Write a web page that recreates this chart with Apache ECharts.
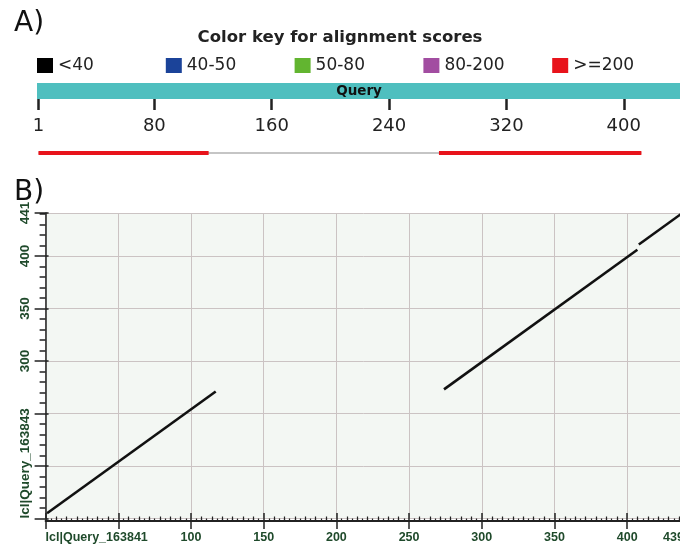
<!DOCTYPE html>
<html>
<head>
<meta charset="utf-8">
<script src="https://cdn.jsdelivr.net/npm/echarts@6/dist/echarts.min.js"></script>
<style>
html,body{margin:0;padding:0;background:#fff;}
#chart{width:680px;height:544px;}
</style>
</head>
<body>
<div id="chart"></div>
<script>
// ---------- data ----------
const queryLength = 439;
const queryTicks = [1, 80, 160, 240, 320, 400];
const queryLabel = 'Query';
const scoreKeys = ['<40', '40-50', '50-80', '80-200', '>=200'];
const scoreColors = ['#000000', '#1b4399', '#62b530', '#a24da1', '#e8131b'];
const hspQueryRanges = [[1, 117], [274, 412]];   // red (>=200) hits on the query
const hitSpan = [1, 412];                          // thin connector line
const dotXName = 'lcl|Query_163841';
const dotYName = 'lcl|Query_163843';
const dotSegments = [
  [[1, 155], [117, 271]],
  [[274, 273], [407, 406]],
  [[408, 411], [438, 441]]
];
const dotXRange = [0, 439];
const dotYRange = [150, 441];
const dotXLabels = [100, 150, 200, 250, 300, 350, 400, 439];
const dotYLabels = [300, 350, 400, 441];

// ---------- styles ----------
const green = '#1f4a2b';
const axisDark = '#222';
const gridCol = '#cbc3c3';

const chart = echarts.init(document.getElementById('chart'), null, {renderer: 'canvas'});

const legends = scoreKeys.map((k, i) => ({
  data: [k],
  left: 37 + i * 128.8,
  top: 57,
  padding: 0,
  icon: 'rect',
  itemWidth: 16,
  itemHeight: 15,
  selectedMode: false,
  itemStyle: {opacity: 1},
  textStyle: {fontFamily: 'DejaVu Sans', fontSize: 17, color: '#222', padding: [0, 0, 0, 0]}
}));

const legendSeries = scoreKeys.map((k, i) => ({
  type: 'scatter', name: k, data: [], xAxisIndex: 1, yAxisIndex: 1,
  itemStyle: {color: scoreColors[i], opacity: 1}
}));

const hitSeries = hspQueryRanges.map(r => ({
  type: 'line', xAxisIndex: 1, yAxisIndex: 1, symbol: 'none', silent: true,
  data: [[r[0], 'hits'], [r[1], 'hits']],
  lineStyle: {color: scoreColors[4], width: 4, cap: 'butt'}, z: 3
}));

const dotSeries = dotSegments.map(s => ({
  type: 'line', xAxisIndex: 2, yAxisIndex: 2, symbol: 'none', silent: true,
  data: s, lineStyle: {color: '#111', width: 2.6}, z: 5
}));

const xLab = v => v === dotXRange[0] ? dotXName : (dotXLabels.indexOf(v) >= 0 ? String(v) : '');
const yLab = v => v === dotYRange[0] ? dotYName : (dotYLabels.indexOf(v) >= 0 ? String(v) : '');

const option = {
  animation: false,
  backgroundColor: '#ffffff',
  title: [
    {text: 'A)', left: 14, top: 10, padding: 0,
     textStyle: {fontFamily: 'DejaVu Sans', fontSize: 28, fontWeight: 'normal', color: '#111'}},
    {text: 'Color key for alignment scores', left: 'center', top: 29, padding: 0,
     textStyle: {fontFamily: 'DejaVu Sans', fontSize: 16.5, fontWeight: 'bold', color: '#222'}},
    {text: 'B)', left: 14, top: 179, padding: 0,
     textStyle: {fontFamily: 'DejaVu Sans', fontSize: 28, fontWeight: 'normal', color: '#111'}}
  ],
  legend: legends,
  grid: [
    {left: 37, right: -1, top: 83, height: 16, outerBoundsMode: 'none'},
    {left: 37, right: -1, top: 145, height: 16, outerBoundsMode: 'none'},
    {left: 45.6, right: -3.9, top: 213, bottom: 25.5, outerBoundsMode: 'none',
     show: true, backgroundColor: '#f3f7f3', borderWidth: 0}
  ],
  xAxis: [
    {type: 'value', gridIndex: 0, min: 0, max: queryLength,
     axisLine: {show: false}, splitLine: {show: false},
     axisTick: {show: true, customValues: queryTicks, length: 11, lineStyle: {color: axisDark, width: 2.5}},
     axisLabel: {show: true, customValues: queryTicks, margin: 18, fontFamily: 'DejaVu Sans', fontSize: 18, color: '#222'}},
    {type: 'value', gridIndex: 1, min: 0, max: queryLength, show: false},
    {type: 'value', gridIndex: 2, min: dotXRange[0], max: dotXRange[1], interval: 50, position: 'bottom', offset: 2.5,
     axisLine: {show: true, lineStyle: {color: axisDark, width: 2}},
     axisTick: {show: true, inside: true, length: 8, lineStyle: {color: axisDark, width: 1.5}},
     minorTick: {show: true, splitNumber: 14, length: 2.5, lineStyle: {color: axisDark, width: 1.2}},
     splitLine: {show: true, lineStyle: {color: gridCol, width: 1}},
     axisLabel: {show: true, showMinLabel: true, showMaxLabel: true, alignMinLabel: 'left', alignMaxLabel: 'right',
       margin: 10, formatter: xLab, fontFamily: 'Liberation Sans', fontWeight: 'bold', fontSize: 12.5, color: green}},
    {type: 'value', gridIndex: 2, min: dotXRange[0], max: dotXRange[1], interval: 50, position: 'bottom', offset: 2.5,
     axisLine: {show: false}, axisLabel: {show: false}, splitLine: {show: false},
     axisTick: {show: false, inside: true},
     minorTick: {show: true, splitNumber: 7, length: 4.5, lineStyle: {color: axisDark, width: 1.2}}},
    {type: 'value', gridIndex: 2, min: dotXRange[0], max: dotXRange[1], interval: 50, position: 'bottom', offset: 2.5,
     axisLine: {show: false}, axisLabel: {show: false}, splitLine: {show: false},
     axisTick: {show: true, inside: false, length: 8, lineStyle: {color: axisDark, width: 1.5}}}
  ],
  yAxis: [
    {type: 'category', gridIndex: 0, data: [queryLabel], show: false},
    {type: 'category', gridIndex: 1, data: ['hits'], show: false},
    {type: 'value', gridIndex: 2, min: dotYRange[0], max: dotYRange[1], interval: 50, position: 'left',
     axisLine: {show: true, lineStyle: {color: axisDark, width: 1.5}},
     axisTick: {show: true, inside: false, length: 11, lineStyle: {color: axisDark, width: 1.5}},
     minorTick: {show: true, splitNumber: 5, length: 6, lineStyle: {color: axisDark, width: 1.5}},
     splitLine: {show: true, lineStyle: {color: gridCol, width: 1}},
     axisLabel: {show: true, rotate: 90, showMinLabel: true, showMaxLabel: true, alignMinLabel: 'left',
       margin: 13, formatter: yLab, fontFamily: 'Liberation Sans', fontWeight: 'bold', fontSize: 13.5, color: green}},
    {type: 'value', gridIndex: 2, min: dotYRange[0], max: dotYRange[1], interval: 50, position: 'left',
     axisLine: {show: false}, axisLabel: {show: false}, splitLine: {show: false},
     axisTick: {show: true, inside: true, length: 3, lineStyle: {color: axisDark, width: 1.5}}}
  ],
  series: [
    {type: 'bar', xAxisIndex: 0, yAxisIndex: 0, data: [queryLength], barWidth: '100%', silent: true,
     itemStyle: {color: '#4fbfbf'},
     label: {show: true, position: 'inside', formatter: '{b}', fontFamily: 'DejaVu Sans', fontWeight: 'bold', fontSize: 13.5, color: '#111'}},
    {type: 'line', xAxisIndex: 1, yAxisIndex: 1, symbol: 'none', silent: true,
     data: [[hitSpan[0], 'hits'], [hitSpan[1], 'hits']],
     lineStyle: {color: '#8c8c8c', width: 1.2}, z: 2},
    ...hitSeries,
    ...legendSeries,
    ...dotSeries
  ]
};
chart.setOption(option);
</script>
</body>
</html>
